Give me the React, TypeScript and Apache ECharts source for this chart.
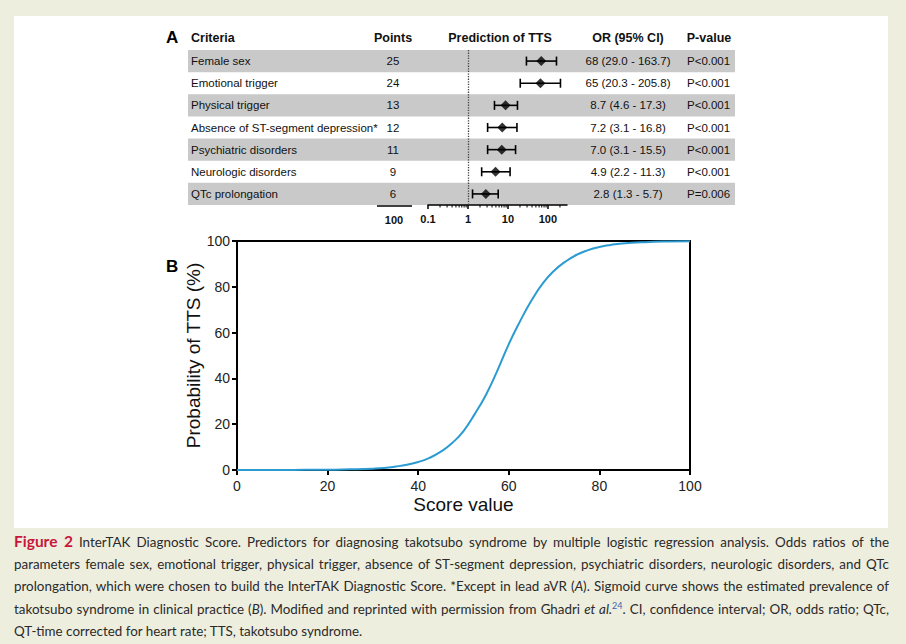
import React, { useEffect, useRef } from "react";
import * as echarts from "echarts";

// ---------- Panel A data ----------
const columnHeaders = ["Criteria", "Points", "Prediction of TTS", "OR (95% CI)", "P-value"];
const criteria = [
  "Female sex",
  "Emotional trigger",
  "Physical trigger",
  "Absence of ST-segment depression*",
  "Psychiatric disorders",
  "Neurologic disorders",
  "QTc prolongation",
];
const points = [25, 24, 13, 12, 11, 9, 6];
const oddsRatio = [68, 65, 8.7, 7.2, 7.0, 4.9, 2.8];
const ciLow = [29.0, 20.3, 4.6, 3.1, 3.1, 2.2, 1.3];
const ciHigh = [163.7, 205.8, 17.3, 16.8, 15.5, 11.3, 5.7];
const pValues = ["P<0.001", "P<0.001", "P<0.001", "P<0.001", "P<0.001", "P<0.001", "P=0.006"];
const logMinorTicks = [0.2, 0.3, 0.4, 0.5, 0.6, 0.7, 0.8, 0.9, 2, 3, 4, 5, 6, 7, 8, 9, 20, 30, 40, 50, 60, 70, 80, 90, 200];
const pointsScaleLabel = "100";

// ---------- Panel B data ----------
const scoreValues = [0, 5, 10, 15, 20, 25, 30, 32.5, 35, 37.5, 40, 42.5, 45, 47.5, 50, 52.5, 55, 57.5, 60, 62.5, 65, 67.5, 70, 72.5, 75, 77.5, 80, 82.5, 85, 90, 95, 100];
const probability = [0.0, 0.0, 0.0, 0.1, 0.1, 0.3, 0.6, 0.9, 1.5, 2.3, 3.5, 5.3, 8, 11.8, 17, 24.5, 33, 43.5, 55, 65, 74, 81.5, 87, 91, 94, 96, 97.4, 98.3, 98.9, 99.5, 99.8, 99.9];

const FONT = "'Liberation Sans', Arial, Helvetica, sans-serif";
const ROW_FONT = 11.5;

function fmtOR(v: number) {
  return v >= 10 ? String(v) : v.toFixed(1);
}

function buildOption(): any {
  const headerY = 38;
  const headerStyle = { fontSize: 12.5, fontWeight: "bold", fontFamily: FONT, fill: "#111", verticalAlign: "middle" };
  return {
    animation: false,
    backgroundColor: "transparent",
    grid: [
      { left: 237, top: 241, width: 453, height: 229, show: true, borderColor: "#000", borderWidth: 2, backgroundColor: "transparent" },
      { left: 428, top: 50, width: 139, height: 155 },
      { left: 188, top: 50, width: 547, height: 155 },
    ],
    xAxis: [
      {
        gridIndex: 0, type: "value", min: 0, max: 100, interval: 20,
        name: "Score value", nameLocation: "middle", nameGap: 25,
        nameTextStyle: { fontSize: 19, color: "#111", fontFamily: FONT },
        axisLine: { show: true, lineStyle: { color: "#000", width: 2 } },
        axisTick: { show: true, length: 5, lineStyle: { color: "#000", width: 2 } },
        axisLabel: { fontSize: 14, color: "#222", margin: 9, fontFamily: FONT },
        splitLine: { show: false },
      },
      {
        gridIndex: 1, type: "log", logBase: 10, min: 0.1, max: 300,
        axisLine: { show: true, lineStyle: { color: "#000", width: 1.5 } },
        axisTick: { show: true, length: 4, lineStyle: { color: "#000", width: 1.5 } },
        axisLabel: {
          fontSize: 11, fontWeight: "bold", color: "#111", margin: 8, fontFamily: FONT, showMaxLabel: false,
          formatter: (v: number) => (v < 1 ? v.toFixed(1) : String(Math.round(v))),
        },
        splitLine: { show: false },
      },
      { gridIndex: 2, type: "value", min: 0, max: 1, show: false },
    ],
    yAxis: [
      {
        gridIndex: 0, type: "value", min: 0, max: 100, interval: 20,
        name: "Probability of TTS (%)", nameLocation: "middle", nameGap: 32,
        nameTextStyle: { fontSize: 19, color: "#111", fontFamily: FONT },
        axisLine: { show: true, lineStyle: { color: "#000", width: 2 } },
        axisTick: { show: true, length: 5, lineStyle: { color: "#000", width: 2 } },
        axisLabel: { fontSize: 14, color: "#222", margin: 7, fontFamily: FONT },
        splitLine: { show: false },
      },
      { gridIndex: 1, type: "category", data: criteria, inverse: true, show: false },
      {
        gridIndex: 2, type: "category", data: criteria, inverse: true,
        axisLine: { show: false }, axisTick: { show: false }, axisLabel: { show: false },
        splitLine: { show: false },
        splitArea: { show: true, areaStyle: { color: ["#c9c9c9", "rgba(255,255,255,0)"] } },
      },
    ],
    graphic: {
      elements: [
        { type: "text", left: 166, top: 29, style: { text: "A", fontSize: 17, fontWeight: "bold", fontFamily: FONT, fill: "#000" } },
        { type: "text", left: 166, top: 258, style: { text: "B", fontSize: 17, fontWeight: "bold", fontFamily: FONT, fill: "#000" } },
        { type: "text", x: 191, y: headerY, style: { ...headerStyle, text: columnHeaders[0], align: "left" } },
        { type: "text", x: 393, y: headerY, style: { ...headerStyle, text: columnHeaders[1], align: "center" } },
        { type: "text", x: 500, y: headerY, style: { ...headerStyle, text: columnHeaders[2], align: "center" } },
        { type: "text", x: 628, y: headerY, style: { ...headerStyle, text: columnHeaders[3], align: "center" } },
        { type: "text", x: 709, y: headerY, style: { ...headerStyle, text: columnHeaders[4], align: "center" } },
        { type: "line", shape: { x1: 377, y1: 206, x2: 412, y2: 206 }, style: { stroke: "#000", lineWidth: 1.5 } },
        { type: "text", x: 394, y: 220, style: { text: pointsScaleLabel, fontSize: 11, fontWeight: "bold", fontFamily: FONT, fill: "#111", align: "center", verticalAlign: "middle" } },
      ],
    },
    series: [
      // table rows
      {
        type: "custom", xAxisIndex: 2, yAxisIndex: 2,
        data: criteria.map((_, i) => [0, i]), encode: { x: 0, y: 1 },
        silent: true,
        renderItem: (params: any, api: any) => {
          const i = params.dataIndex;
          const y = api.coord([0, i])[1];
          const base = { fontSize: ROW_FONT, fontFamily: FONT, fill: "#111", verticalAlign: "middle" };
          return {
            type: "group",
            children: [
              { type: "text", style: { ...base, text: criteria[i], x: 191, y, align: "left" } },
              { type: "text", style: { ...base, text: String(points[i]), x: 393, y, align: "center" } },
              { type: "text", style: { ...base, text: `${fmtOR(oddsRatio[i])} (${ciLow[i].toFixed(1)} - ${ciHigh[i].toFixed(1)})`, x: 628, y, align: "center" } },
              { type: "text", style: { ...base, text: pValues[i], x: 687, y, align: "left" } },
            ],
          };
        },
      },
      // confidence intervals
      {
        type: "custom", xAxisIndex: 1, yAxisIndex: 1,
        data: criteria.map((_, i) => [ciLow[i], ciHigh[i], i]), encode: { x: [0, 1], y: 2 },
        silent: true,
        renderItem: (params: any, api: any) => {
          const lo = api.coord([api.value(0), api.value(2)]);
          const hi = api.coord([api.value(1), api.value(2)]);
          const h = 4.5;
          const st = { stroke: "#000", lineWidth: 1.6 };
          return {
            type: "group",
            children: [
              { type: "line", shape: { x1: lo[0], y1: lo[1], x2: hi[0], y2: hi[1] }, style: st },
              { type: "line", shape: { x1: lo[0], y1: lo[1] - h, x2: lo[0], y2: lo[1] + h }, style: st },
              { type: "line", shape: { x1: hi[0], y1: hi[1] - h, x2: hi[0], y2: hi[1] + h }, style: st },
            ],
          };
        },
      },
      // minor log ticks
      {
        type: "custom", xAxisIndex: 1, yAxisIndex: 1,
        data: logMinorTicks.map((v) => [v, 0]), encode: { x: 0, y: 1 },
        silent: true,
        renderItem: (params: any, api: any) => {
          const p = api.coord([api.value(0), 0]);
          const yb = params.coordSys.y + params.coordSys.height;
          return { type: "line", shape: { x1: p[0], y1: yb, x2: p[0], y2: yb + 2.5 }, style: { stroke: "#000", lineWidth: 1 } };
        },
      },
      // odds ratio diamonds + reference line
      {
        type: "scatter", xAxisIndex: 1, yAxisIndex: 1,
        data: criteria.map((_, i) => [oddsRatio[i], i]),
        symbol: "diamond", symbolSize: [10, 10],
        itemStyle: { color: "#000" },
        silent: true,
        markLine: {
          silent: true, symbol: ["none", "none"], label: { show: false },
          lineStyle: { color: "#444", type: "dotted", width: 1.3 },
          data: [{ xAxis: 1 }],
        },
      },
      // sigmoid
      {
        type: "line", xAxisIndex: 0, yAxisIndex: 0,
        data: scoreValues.map((x, i) => [x, probability[i]]),
        smooth: 0.5, showSymbol: false, symbol: "none",
        lineStyle: { color: "#2b9bd1", width: 2 },
        silent: true,
      },
    ],
  };
}

const lineStyle: React.CSSProperties = { whiteSpace: "nowrap", textAlign: "justify", textAlignLast: "justify" as any, height: 22.5 };

export default function App() {
  const ref = useRef<HTMLDivElement>(null);
  useEffect(() => {
    const chart = echarts.init(ref.current!, null, { renderer: "svg" });
    chart.setOption(buildOption());
    return () => chart.dispose();
  }, []);
  return (
    <div style={{ position: "absolute", left: 0, top: 0, width: 906, height: 644, background: "#eeeedf", overflow: "hidden" }}>
      <div style={{ position: "absolute", left: 14, top: 16, width: 874, height: 512, background: "#fff" }} />
      <div ref={ref} style={{ position: "absolute", left: 0, top: 0, width: 906, height: 530 }} />
      <div style={{ position: "absolute", left: 14, top: 530, width: 875, fontFamily: "Lato, 'Open Sans', sans-serif", fontSize: 13.4, lineHeight: "22.5px", color: "#2a2a2a" }}>
        <div style={lineStyle}>
          <span style={{ color: "#c8163a", fontWeight: 700, fontSize: 15.5 }}>Figure 2</span> InterTAK Diagnostic Score. Predictors for diagnosing takotsubo syndrome by multiple logistic regression analysis. Odds ratios of the
        </div>
        <div style={lineStyle}>
          parameters female sex, emotional trigger, physical trigger, absence of ST-segment depression, psychiatric disorders, neurologic disorders, and QTc
        </div>
        <div style={lineStyle}>
          prolongation, which were chosen to build the InterTAK Diagnostic Score. *Except in lead aVR (<i>A</i>). Sigmoid curve shows the estimated prevalence of
        </div>
        <div style={lineStyle}>
          takotsubo syndrome in clinical practice (<i>B</i>). Modified and reprinted with permission from Ghadri <i>et al.</i><sup style={{ color: "#3a64b0", fontSize: 9, lineHeight: 0 }}>24</sup>. CI, confidence interval; OR, odds ratio; QTc,
        </div>
        <div style={{ whiteSpace: "nowrap", height: 22.5 }}>QT-time corrected for heart rate; TTS, takotsubo syndrome.</div>
      </div>
    </div>
  );
}
